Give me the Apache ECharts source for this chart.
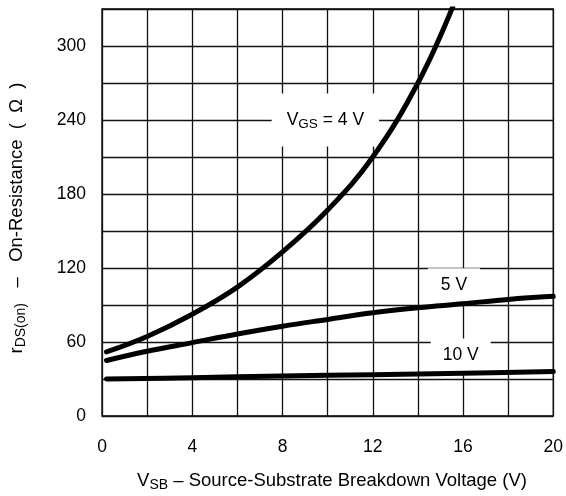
<!DOCTYPE html>
<html>
<head>
<meta charset="utf-8">
<script src="https://cdn.jsdelivr.net/npm/echarts@6/dist/echarts.min.js"></script>
<style>
  html, body { margin: 0; padding: 0; background: #fff; }
  #chart { width: 566px; height: 496px; }
</style>
</head>
<body>
<div id="chart"></div>
<script>
// On-resistance vs. source-substrate voltage, one curve per gate voltage
const vsb4 = [0.2, 2, 4, 6, 8, 10, 12, 14, 15.55];
const rds4 = [52, 64.5, 82.5, 104.5, 133, 167, 210, 270, 332];

const vsb5 = [0.2, 2, 4, 6, 8, 10, 12, 14, 16, 18, 20];
const rds5 = [45, 52.5, 59.5, 66.5, 72.8, 78.3, 83.7, 87.8, 91, 94.5, 97];

const vsb10 = [0.2, 4, 8, 12, 16, 20];
const rds10 = [30, 31, 32.5, 33.5, 34.7, 36];

// Curve annotations (data coordinates of their centres)
const noteText = ['{v|V}{s|GS}{v| = 4 V}', '{v|5 V}', '{v|10 V}'];
const noteX = [9.9, 15.6, 15.9];
const noteY = [240, 106, 49];
const notePad = [[15, 15], [8, 13], [8, 12]];

// Axis ticks and labels
const xMin = 0, xMax = 20, xStep = 2, xLabelStep = 4;
const yMin = 0, yMax = 330, yStep = 30, yLabelStep = 60;

const FONT = '"Liberation Sans", Arial, sans-serif';
const FS = 17.5;
const SUB = 13.5;
const TITLE_FS = 18.5;
const TITLE_SUB = 14;

const pairs = (xs, ys) => xs.map((x, i) => [x, ys[i]]);

const curve = (xs, ys) => ({
  type: 'line',
  data: pairs(xs, ys),
  smooth: 0.4,
  showSymbol: false,
  symbol: 'none',
  z: 3,
  lineStyle: { color: '#000', width: 5, cap: 'round', join: 'round' },
  silent: true
});

const richStyles = {
  v: { fontFamily: FONT, fontSize: FS, color: '#000' },
  s: { fontFamily: FONT, fontSize: SUB, color: '#000', padding: [9, 0, 0, 0] }
};
const richFill = {
  v: { fontFamily: FONT, fontSize: TITLE_FS, fill: '#000' },
  s: { fontFamily: FONT, fontSize: TITLE_SUB, fill: '#000', padding: [9, 0, 0, 0] }
};

const chart = echarts.init(document.getElementById('chart'), null, { renderer: 'canvas' });

chart.setOption({
  animation: false,
  backgroundColor: '#fff',
  grid: { left: 102, right: 9, top: 9, bottom: 80, show: true, borderColor: '#000', borderWidth: 1.3 },
  xAxis: {
    type: 'value', min: xMin, max: xMax, interval: xStep,
    axisLine: { show: false },
    axisTick: { show: false },
    splitLine: { show: true, lineStyle: { color: '#111', width: 1.3 } },
    axisLabel: {
      margin: 22, color: '#000', fontFamily: FONT, fontSize: FS,
      formatter: v => (Math.round(v) % xLabelStep === 0 ? String(v) : '')
    }
  },
  yAxis: {
    type: 'value', min: yMin, max: yMax, interval: yStep,
    axisLine: { show: false },
    axisTick: { show: false },
    splitLine: { show: true, lineStyle: { color: '#111', width: 1.3 } },
    axisLabel: {
      margin: 16, color: '#000', fontFamily: FONT, fontSize: FS,
      formatter: v => (Math.round(v) % yLabelStep === 0 ? String(v) : '')
    }
  },
  series: [
    curve(vsb4, rds4),
    curve(vsb5, rds5),
    curve(vsb10, rds10),
    {
      type: 'scatter',
      z: 2,
      symbolSize: 0,
      silent: true,
      itemStyle: { opacity: 1 },
      emphasis: { disabled: true },
      data: noteX.map((x, i) => ({
        value: [x, noteY[i]],
        label: { padding: notePad[i] }
      })),
      label: {
        show: true,
        position: 'inside',
        opacity: 1,
        formatter: p => noteText[p.dataIndex],
        backgroundColor: '#fff',
        rich: richStyles
      }
    }
  ],
  graphic: [
    {
      type: 'text',
      x: 332, y: 481,
      style: {
        text: '{v|V}{s|SB}{v| – Source-Substrate Breakdown Voltage (V)}',
        align: 'center', verticalAlign: 'middle',
        rich: richFill
      }
    },
    {
      type: 'text',
      x: 17, y: 218,
      rotation: Math.PI / 2,
      style: {
        text: '{v|r}{s|DS(on)}{v|   –   On-Resistance  (  Ω  )}',
        align: 'center', verticalAlign: 'middle',
        rich: richFill
      }
    }
  ]
});
</script>
</body>
</html>
